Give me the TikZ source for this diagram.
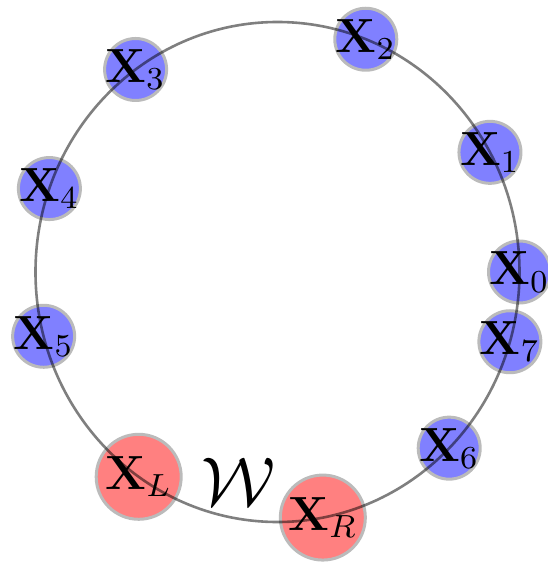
\documentclass[tikz,border=0pt]{standalone}
\usepackage{amsmath}
\usepackage{tikz}
\usetikzlibrary{positioning}
\definecolor{NodeBlue}{HTML}{8080FF}
\definecolor{NodeRed}{HTML}{FF8080}
\definecolor{Rim}{HTML}{BBBBBB}
\tikzset{
  var/.style={
    circle, fill=#1, draw=Rim, line width=0.75pt,
    inner sep=-3pt, minimum size=15.5pt, font=\fontsize{11.5}{14}\selectfont
  },
  var/.default=NodeBlue,
  bigvar/.style={var=NodeRed, minimum size=21.25pt},
  ring/.style={draw=black, draw opacity=0.5, line width=0.65pt},
}
\begin{document}
\begin{tikzpicture}[x=0.25pt, y=0.25pt]
\useasboundingbox (-277.5,-295) rectangle (269.5,272);

% Variables round the ring
\node[var] (x0) at (0:242 and 250) {$\mathbf{X}_0$};
\node[var] (x1) at (28.6:242 and 250) {$\mathbf{X}_1$};
\node[var] (x2) at (68.6:242 and 250) {$\mathbf{X}_2$};
\node[var] (x3) at (125.9:242 and 250) {$\mathbf{X}_3$};
\node[var] (x4) at (160.5:242 and 250) {$\mathbf{X}_4$};
\node[var] (x5) at (194.9:242 and 250) {$\mathbf{X}_5$};
\node[bigvar] (xl) at (235:242 and 250) {$\mathbf{X}_L$};
\node[bigvar] (xr) at (280.8:242 and 250) {$\mathbf{X}_R$};
\node[var] (x6) at (315.2:242 and 250) {$\mathbf{X}_6$};
\node[var] (x7) at (343.8:242 and 250) {$\mathbf{X}_7$};

% The ring itself
\draw[ring] (0,0) ellipse [x radius=242, y radius=250];

\node[font=\LARGE] (w) at (-39.5,-210) {$\mathcal{W}$};

\end{tikzpicture}
\end{document}
